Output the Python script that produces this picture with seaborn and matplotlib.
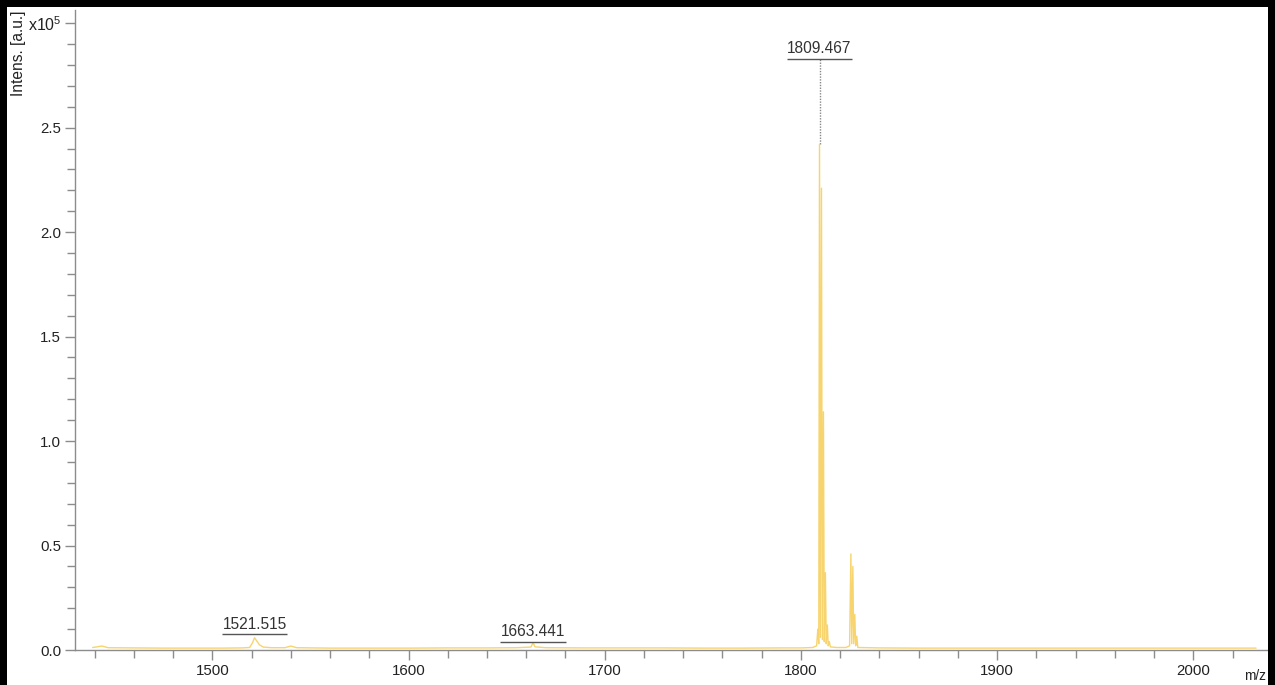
import matplotlib
matplotlib.use("Agg")
import matplotlib.pyplot as plt
from matplotlib.patches import Rectangle
from matplotlib.ticker import MultipleLocator, FixedLocator, FixedFormatter
import seaborn as sns

# ---- data (m/z, intensity x10^5) ----
mz = [1439.0, 1440.5, 1443.6, 1447.0, 1460.0, 1475.0, 1490.0, 1505.0, 1515.0,
      1519.0, 1520.5, 1521.5, 1522.5, 1524.0, 1526.0, 1530.0, 1537.0, 1540.0,
      1543.0, 1560.0, 1580.0, 1600.0, 1620.0, 1640.0, 1655.0, 1662.4, 1663.44,
      1664.5, 1670.0, 1690.0, 1710.0, 1730.0, 1750.0, 1770.0, 1790.0, 1800.0,
      1806.0, 1808.0, 1808.6, 1809.1, 1809.47, 1809.9, 1810.47, 1810.9, 1811.47,
      1811.9, 1812.47, 1812.9, 1813.47, 1813.9, 1814.47, 1815.0, 1818.0, 1823.0,
      1824.8, 1825.46, 1825.9, 1826.46, 1826.9, 1827.46, 1827.9, 1828.46, 1829.0,
      1840.0, 1860.0, 1880.0, 1900.0, 1920.0, 1940.0, 1960.0, 1980.0, 2000.0,
      2015.0, 2032.0]
intens = [0.012, 0.014, 0.019, 0.011, 0.010, 0.009, 0.009, 0.009, 0.010,
          0.012, 0.035, 0.059, 0.045, 0.025, 0.014, 0.011, 0.011, 0.019,
          0.011, 0.009, 0.009, 0.009, 0.010, 0.010, 0.011, 0.014, 0.035,
          0.015, 0.011, 0.010, 0.010, 0.010, 0.009, 0.009, 0.010, 0.010,
          0.012, 0.020, 0.100, 0.030, 2.420, 0.060, 2.210, 0.050, 1.140,
          0.040, 0.370, 0.030, 0.120, 0.020, 0.040, 0.015, 0.012, 0.012,
          0.020, 0.460, 0.030, 0.400, 0.030, 0.170, 0.020, 0.066, 0.012,
          0.010, 0.009, 0.009, 0.009, 0.009, 0.009, 0.009, 0.009, 0.009,
          0.009, 0.009]

peak_labels = ["1521.515", "1663.441", "1809.467"]
peak_mz = [1521.515, 1663.441, 1809.467]
peak_top = [0.059, 0.035, 2.420]
label_y = [0.075, 0.040, 2.829]

y_ticks = [0.0, 0.5, 1.0, 1.5, 2.0, 2.5, 3.0]
y_ticklabels = ["0.0", "0.5", "1.0", "1.5", "2.0", "2.5", r"x10$^{\mathregular{5}}$"]

# ---- style ----
sns.set_style("ticks")
plt.rcParams["font.family"] = ["Liberation Sans", "DejaVu Sans"]
plt.rcParams["mathtext.fontset"] = "custom"
plt.rcParams["mathtext.rm"] = "Liberation Sans"

W, H = 1275, 685
fig = plt.figure(figsize=(W / 100, H / 100), dpi=100)
fig.patch.set_facecolor("white")
ax = fig.add_axes([75 / W, (H - 650) / H, (1271.8 - 75) / W, 640 / H])

sns.lineplot(x=mz, y=intens, ax=ax, color="#F7D46E", linewidth=1.0,
             estimator=None, sort=False, zorder=3)

ax.set_xlim(1430, 2040)
ax.set_ylim(0, 3.063)

ax.xaxis.set_major_locator(MultipleLocator(100))
ax.xaxis.set_minor_locator(MultipleLocator(20))
ax.yaxis.set_major_locator(FixedLocator(y_ticks))
ax.yaxis.set_major_formatter(FixedFormatter(y_ticklabels))
ax.yaxis.set_minor_locator(MultipleLocator(0.1))

for s in ["top", "right"]:
    ax.spines[s].set_visible(False)
for s in ["left", "bottom"]:
    ax.spines[s].set_color("#8c8c8c")
    ax.spines[s].set_linewidth(1.0)

ax.tick_params(which="both", bottom=True, left=True, top=False, right=False)
ax.tick_params(which="major", direction="out", length=7, width=1,
               color="#8c8c8c", labelsize=10.8, labelcolor="#222222", pad=3)
ax.tick_params(which="minor", direction="out", length=6, width=1,
               color="#8c8c8c")
ax.set_xlabel("")
ax.set_ylabel("")
fig.canvas.draw()
ax.get_yticklabels()[-1].set_fontsize(11.5)

# peak labels with underline and dotted leader
for lab, m, top, ly in zip(peak_labels, peak_mz, peak_top, label_y):
    ax.hlines(ly, m - 16.6, m + 16.6, color="#555555", linewidth=1.0, zorder=4)
    if ly - top > 0.02:
        ax.vlines(m, top, ly, color="#888888", linewidth=1.0,
                  linestyles=(0, (1, 1)), zorder=2)
    ax.annotate(lab, xy=(m, ly), xytext=(0, 2), textcoords="offset points",
                ha="center", va="bottom", fontsize=11.2, color="#333333")

# axis titles
fig.text(19 / W, 1 - 10 / H, "Intens. [a.u.]", rotation=90, ha="center",
         va="top", fontsize=11.2, color="#222222")
fig.text(1266 / W, 1 - 676 / H, "m/z", ha="right", va="center",
         fontsize=9.8, color="#222222")

# black frame (left, top, right)
for (x0, y0, w, h) in [(0, 0, 7 / W, 1), (0, 1 - 7 / H, 1, 7 / H),
                       (1268 / W, 0, 7 / W, 1)]:
    fig.patches.append(Rectangle((x0, y0), w, h, transform=fig.transFigure,
                                 facecolor="black", edgecolor="none", zorder=10))

fig.savefig("out.png", dpi=100)
